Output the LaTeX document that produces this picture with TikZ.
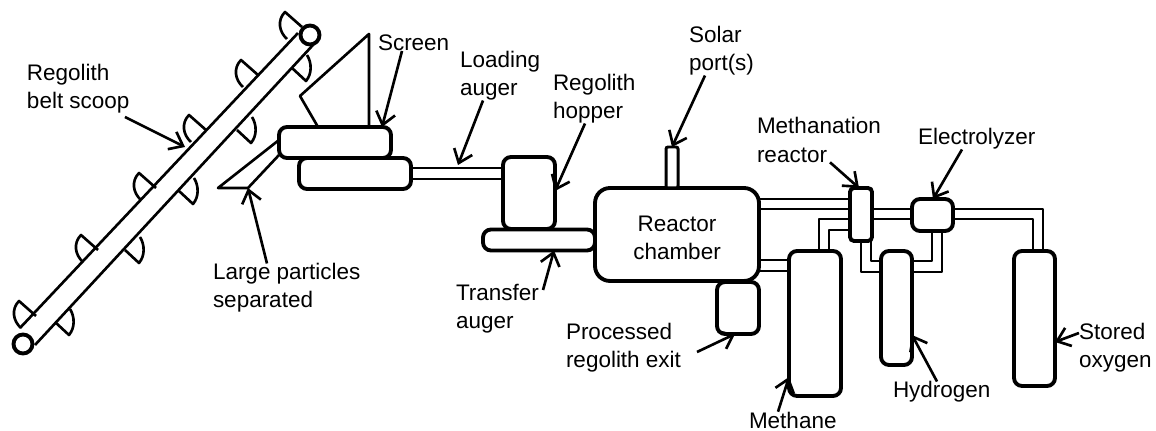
\documentclass[tikz,border=0pt]{standalone}
\usepackage{fontspec}
\setmainfont{Liberation Sans}
\usetikzlibrary{arrows.meta}
\tikzset{
  unitbox/.style={draw,fill=white,line width=2.2pt,rounded corners=0.16cm,inner sep=0pt,outer sep=0pt},
  roller/.style={draw,fill=white,circle,line width=2.2pt,minimum size=0.38cm,inner sep=0pt,outer sep=0pt},
  pipe/.style={line width=1.4pt,line join=round},
  frame/.style={line width=1.5pt,line join=round},
  pointer/.style={line width=1.5pt,-{Straight Barb[length=7pt,width=11pt,line width=1.5pt]}},
  lbl/.style={anchor=west,align=left,inner sep=0pt,outer sep=0pt}
}
\begin{document}
\begin{tikzpicture}[x=0.02cm,y=-0.02cm,font=\fontsize{12.8}{16}\selectfont]
\useasboundingbox (0,0) rectangle (1156,431);

\coordinate (beltA) at (298,33);
\coordinate (beltB) at (20,328);
\coordinate (beltC) at (313,45);
\coordinate (beltD) at (35,345);
\draw[frame] (beltA) -- (beltB);
\draw[frame] (beltC) -- (beltD);
\foreach \tx/\ty in {285/12,241/60,189/115,139/173,81/235,19/301} {
  \draw[frame,shift={(\tx,\ty)}] (17,15) -- (0,0) .. controls (-8,8) and (-6,20) .. (2,27);
}
\foreach \tx/\ty in {306/81,251/143,193/204,139/263,69/335} {
  \draw[frame,shift={(\tx,\ty)}] (-14,-13) -- (0,0) .. controls (6,-7) and (6,-18) .. (1,-26);
}
\node[roller] (rollertop) at (310,35) {};
\node[roller] (rollerbottom) at (23,344) {};

\node[unitbox,minimum width=2.24cm,minimum height=0.62cm] (lowerbox) at (355,173.5) {};
\node[unitbox,minimum width=2.24cm,minimum height=0.62cm] (upperbox) at (335,142.5) {};
\node[unitbox,minimum width=2.24cm,minimum height=0.42cm] (transfer) at (539,240) {};
\node[unitbox,minimum width=1.04cm,minimum height=1.44cm] (hopper) at (529,193) {};
\node[unitbox,minimum width=3.28cm,minimum height=1.86cm,rounded corners=0.3cm] (reactor) at (677,234.5) {};
\node[unitbox,line width=1.7pt,minimum width=0.24cm,minimum height=0.82cm,rounded corners=0.04cm] (solarport) at (672,167.5) {};
\node[unitbox,minimum width=0.84cm,minimum height=1.04cm] (exitbox) at (738,308) {};
\node[unitbox,minimum width=0.44cm,minimum height=1.06cm,rounded corners=0.08cm] (methanation) at (861,214.5) {};
\node[unitbox,minimum width=0.82cm,minimum height=0.64cm] (electrolyzer) at (932.5,215) {};
\node[unitbox,minimum width=1.04cm,minimum height=2.9cm] (methanetank) at (815,323.5) {};
\node[unitbox,minimum width=0.62cm,minimum height=2.28cm] (hydrogentank) at (896.5,308) {};
\node[unitbox,minimum width=0.82cm,minimum height=2.7cm] (oxygentank) at (1034.5,318.5) {};

\coordinate (screentop) at (369,34);
\coordinate (screenleft) at (300,96);
\coordinate (chuteleft) at (218,188);
\coordinate (chutetip) at (248,188);
\draw[frame] (369,0 |- upperbox.north) -- (screentop) -- (screenleft) -- (318,0 |- upperbox.north);
\draw[frame] (upperbox.west |- 0,140) -- (chuteleft) -- (chutetip) -- (upperbox.west |- 0,155);

\draw[pipe] (lowerbox.east |- 0,168) -- (hopper.west |- 0,168);
\draw[pipe] (lowerbox.east |- 0,179) -- (hopper.west |- 0,179);
\draw[pipe] (reactor.east |- 0,199) -- (methanation.west |- 0,199);
\draw[pipe] (reactor.east |- 0,209) -- (methanation.west |- 0,209);
\draw[pipe] (reactor.east |- 0,260) -- (methanetank.west |- 0,260);
\draw[pipe] (reactor.east |- 0,271) -- (methanetank.west |- 0,271);
\draw[pipe] (methanation.east |- 0,209) -- (electrolyzer.west |- 0,209);
\draw[pipe] (methanation.east |- 0,219) -- (electrolyzer.west |- 0,219);
\draw[pipe] (methanation.west |- 0,219) -| (819,0 |- methanetank.north);
\draw[pipe] (methanation.west |- 0,230) -| (829,0 |- methanetank.north);
\draw[pipe] (861,0 |- methanation.south) |- (hydrogentank.west |- 0,272);
\draw[pipe] (871,0 |- methanation.south) |- (hydrogentank.west |- 0,261);
\draw[pipe] (932,0 |- electrolyzer.south) |- (hydrogentank.east |- 0,261);
\draw[pipe] (942,0 |- electrolyzer.south) |- (hydrogentank.east |- 0,272);
\draw[pipe] (electrolyzer.east |- 0,209) -| (1043,0 |- oxygentank.north);
\draw[pipe] (electrolyzer.east |- 0,219) -| (1033,0 |- oxygentank.north);

\node[lbl] (beltlabel) at (27,89) {Regolith\\belt scoop};
\node[lbl] (screenlabel) at (378,43) {Screen};
\node[lbl] (loadinglabel) at (460,76) {Loading\\auger};
\node[lbl] (hopperlabel) at (553,99) {Regolith\\hopper};
\node[lbl] (solarlabel) at (689,51) {Solar\\port(s)};
\node[lbl] (methanationlabel) at (757,140) {Methanation\\reactor};
\node[lbl] (electrolyzerlabel) at (918,139) {Electrolyzer};
\node[align=center,inner sep=0pt] (reactorlabel) at (677,238) {Reactor\\chamber};
\node[lbl] (largelabel) at (213,288) {Large particles\\separated};
\node[lbl] (transferlabel) at (456,309) {Transfer\\auger};
\node[lbl] (exitlabel) at (566,348) {Processed\\regolith exit};
\node[lbl] (methanelabel) at (749,420) {Methane};
\node[lbl] (hydrogenlabel) at (893,392) {Hydrogen};
\node[lbl] (oxygenlabel) at (1079,348) {Stored\\oxygen};

\coordinate (belttail) at (125,117);
\coordinate (belttip) at (185,147);
\coordinate (exittail) at (697,352);
\coordinate (transfertail) at (543,290);
\draw[pointer] (belttail) -- (belttip);
\draw[pointer] (402,0 |- screenlabel.south) -- (382,0 |- upperbox.north);
\draw[pointer] (483,0 |- loadinglabel.south) -- (458,165);
\draw[pointer] (585,0 |- hopperlabel.south) -- (hopper.east |- 0,191);
\draw[pointer] (705,0 |- solarlabel.south) -- (solarport.north);
\draw[pointer] (830,0 |- methanationlabel.south) -- (859,0 |- methanation.north);
\draw[pointer] (962,0 |- electrolyzerlabel.south) -- (933,0 |- electrolyzer.north);
\draw[pointer] (267,0 |- largelabel.north) -- (chutetip);
\draw[pointer] (transfertail) -- (554,0 |- transfer.south);
\draw[pointer] (exittail) -- (735,0 |- exitbox.south);
\draw[pointer] (778,0 |- methanelabel.north) -- (methanetank.west |- 0,377);
\draw[pointer] (937,0 |- hydrogenlabel.north) -- (hydrogentank.east |- 0,335);
\draw[pointer] (oxygenlabel.west |- 0,333) -- (oxygentank.east |- 0,342);
\end{tikzpicture}
\end{document}
